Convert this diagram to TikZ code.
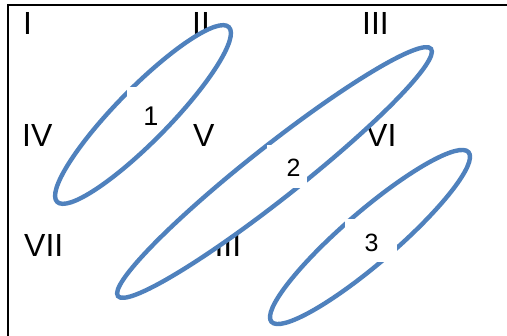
\documentclass[tikz,border=0pt]{standalone}
\usepackage{fontspec}
\setmainfont{Liberation Sans}
\usetikzlibrary{shapes.geometric}
\definecolor{ellblue}{RGB}{79,129,189}
\begin{document}
\begin{tikzpicture}[x=1pt,y=1pt,
  roman/.style={font=\fontsize{32}{32}\selectfont, inner sep=0pt, anchor=base west},
  loop/.style={draw=ellblue, line width=4.4pt, fill=white, ellipse, inner sep=0pt},
  gapbox/.style={fill=white, inner sep=0pt, anchor=north west},
  num/.style={inner sep=0pt}]
\useasboundingbox (0,0) rectangle (507,336);
\fill[white] (0,0) rectangle (507,336);
\coordinate (b0) at (8,0);
\coordinate (b1) at (8,330.5);
\coordinate (b2) at (507,330.5);
\draw[line width=2pt] (b0) -- (b1) -- (b2);
% roman numerals
\node[roman] (r1) at (23,301) {I};
\node[roman] (r2) at (192,301) {II};
\node[roman] (r3) at (362,301) {III};
\node[roman] (r4) at (22,189) {IV};
\node[roman] (r5) at (193,189) {V};
\node[roman] (r6) at (366,189) {VI};
\node[roman] (r7) at (24,79) {VII};
\node[roman] (r8) at (193,79) {VIII};
% ellipses
\node[loop, minimum width=245pt, minimum height=53pt, rotate=45.5] (e1) at (143,221.5) {};
\node[loop, minimum width=399pt, minimum height=52pt, rotate=38.3] (e2) at (274.5,163.5) {};
\node[loop, minimum width=260pt, minimum height=52pt, rotate=40.7] (e3) at (370,99) {};
% label boxes
\node[gapbox, minimum width=33pt, minimum height=43pt] (g1) at (127,249) {};
\node[gapbox, minimum width=40pt, minimum height=43pt] (g2) at (267,191) {};
\node[gapbox, minimum width=52pt, minimum height=43pt] (g3) at (345,117) {};
\node[num, font=\fontsize{27}{27}\selectfont] (n1) at (151,220) {1};
\node[num, font=\fontsize{25}{25}\selectfont] (n2) at (293.5,168) {2};
\node[num, font=\fontsize{25}{25}\selectfont] (n3) at (371.5,93.5) {3};
\end{tikzpicture}
\end{document}
